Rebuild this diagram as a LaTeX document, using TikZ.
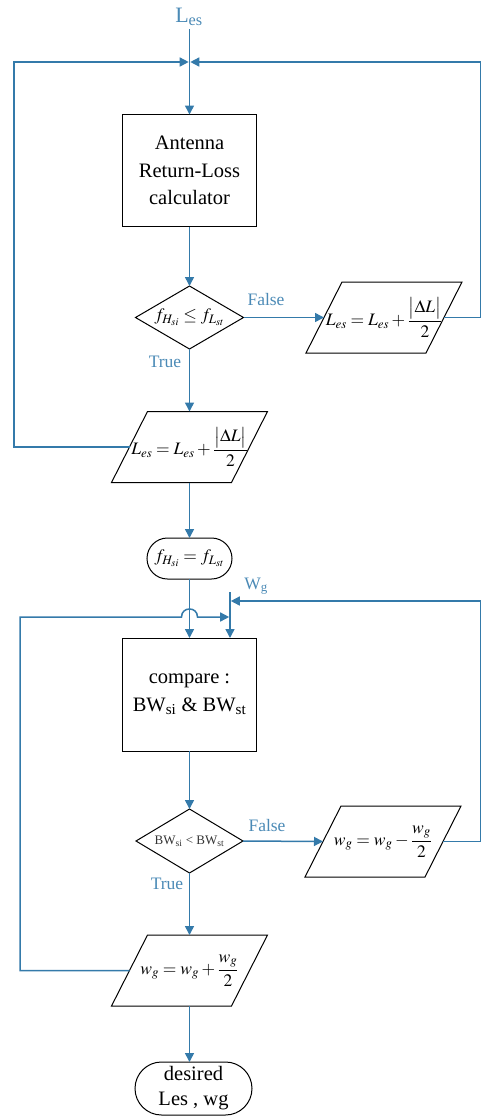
\documentclass[tikz,border=0pt]{standalone}
\usepackage{amsmath}
\usepackage{mathptmx}
\usepackage{fontspec}
\setmainfont{Liberation Serif}
\usetikzlibrary{arrows.meta,shapes.geometric,shapes.misc}
\definecolor{flowc}{RGB}{52,122,170}
\definecolor{lblc}{RGB}{75,138,182}
\tikzset{
  conn/.style={draw=flowc, line width=1.5pt},
  arr/.style={conn, -{Triangle[length=9pt,width=9pt]}},
  boxn/.style={draw=black, line width=1pt, rectangle, inner sep=0pt, outer sep=0pt, align=center, font=\fontsize{20.5}{27.5}\selectfont},
  dia/.style={draw=black, line width=1pt, diamond, inner sep=0pt, outer sep=0pt, aspect=1.7},
  pnode/.style={inner sep=0pt, outer sep=0pt, minimum width=120pt, minimum height=71pt, font=\fontsize{17.5}{20}\selectfont},
  shp/.style={draw=black, line width=1pt, line join=miter},
  term/.style={draw=black, line width=1pt, rounded rectangle, inner sep=0pt, outer sep=0pt, align=center},
  lbl/.style={text=lblc, font=\fontsize{17.5}{20}\selectfont, inner sep=0pt},
  mathtxt/.style={font=\fontsize{17.5}{20}\selectfont, inner sep=0pt},
}
\newcommand\parabox[4]{%
  \node[pnode] (#1) at (#2,#3) {#4};
  \draw[shp] ([xshift=18pt]#1.north west) -- ([xshift=18pt]#1.north east)
    -- ([xshift=-18pt]#1.south east) -- ([xshift=-18pt]#1.south west) -- cycle;}
\begin{document}
\begin{tikzpicture}[x=1pt,y=-1pt]
\useasboundingbox (0,0) rectangle (482,1117);
% ---------- upper loop ----------
\node[lbl, font=\fontsize{22}{22}\selectfont] (les) at (189,17) {L\textsubscript{es}};
\coordinate (lestop) at (189.5,29);
\coordinate (jn) at (189.5,62);
\coordinate (lt1) at (14,62);
\coordinate (rt1) at (480.5,62);
\node[boxn, minimum width=134pt, minimum height=112pt] (b1) at (189.5,170.5) {Antenna\\Return-Loss\\calculator};
\node[dia, minimum width=108pt, minimum height=63pt] (d1) at (189.5,317.5) {};
\node[mathtxt] (d1t) at (d1) {$f_{H_{si}} \le f_{L_{st}}$};
\parabox{p1}{384}{317.5}{$L_{es} = L_{es} + \dfrac{\bigl|\Delta L\bigr|}{2}$}
\parabox{p2}{189.5}{447}{$L_{es} = L_{es} + \dfrac{\bigl|\Delta L\bigr|}{2}$}
\node[term, mathtxt, minimum width=85pt, minimum height=41pt] (t1) at (189.5,558.5) {$f_{H_{si}} = f_{L_{st}}$};
\node[lbl] (f1) at (266,300) {False};
\node[lbl] (tr1) at (165,362) {True};
\draw[arr] (lestop) -- (b1.north);
\draw[arr] (p2.west) -| (lt1) -- ([xshift=-0.8pt]jn);
\draw[arr] (p1.east) -| (rt1) -- ([xshift=0.8pt]jn);
\draw[arr] (b1.south) -- (d1.north);
\draw[arr] (d1.east) -- (p1.west);
\draw[arr] (d1.south) -- (p2.north);
\draw[arr] (p2.south) -- (t1.north);
% ---------- lower loop ----------
\node[boxn, minimum width=134pt, minimum height=113pt] (b2) at (189.5,694.5) {compare :\\BW\textsubscript{si} \& BW\textsubscript{st}};
\node[dia, minimum width=107pt, minimum height=64pt] (d2) at (189.5,841) {};
\node[font=\fontsize{13}{15}\selectfont, text=black!80, inner sep=0pt] (d2t) at (d2) {BW\textsubscript{si} < BW\textsubscript{st}};
\parabox{p3}{383}{841.5}{$w_g = w_g - \dfrac{w_g}{2}$}
\parabox{p4}{189.5}{970.5}{$w_g = w_g + \dfrac{w_g}{2}$}
\node[term, minimum width=117pt, minimum height=53pt, font=\fontsize{20.5}{25}\selectfont] (t2) at (193.5,1088.5) {desired\\Les , wg};
\node[lbl] (wg) at (256,586) {W\textsubscript{g}};
\node[lbl] (f2) at (267,826) {False};
\node[lbl] (tr2) at (167,884) {True};
\coordinate (wgtop) at (230,592);
\coordinate (rt2) at (480.5,601);
\coordinate (wgr) at (230.8,601);
\coordinate (lt2) at (20,617);
\coordinate (jp1) at (181.5,617);
\coordinate (jp2) at (197.5,617);
\coordinate (wgl) at (229.2,617);
\draw[arr] (t1.south) -- (b2.north);
\draw[arr] (wgtop) -- (wgtop |- b2.north);
\draw[arr] (p3.east) -| (rt2) -- (wgr);
\draw[arr] (p4.west) -| (lt2) -- (jp1) .. controls +(0,-10.7) and +(0,-10.7) .. (jp2) -- (wgl);
\draw[arr] (b2.south) -- (d2.north);
\draw[arr] (d2.east) -- (p3.west);
\draw[arr] (d2.south) -- (p4.north);
\draw[arr] (p4.south) -- (p4.south |- t2.north);
\end{tikzpicture}
\end{document}
